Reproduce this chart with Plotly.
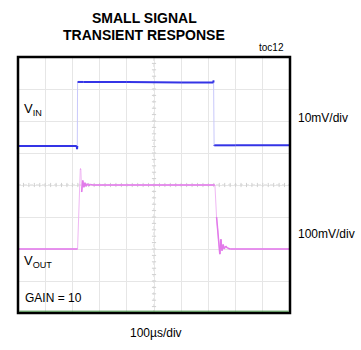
import plotly.graph_objects as go

# --- scope settings ---
time_per_div_us = 100
vin_mv_per_div = 10
vout_mv_per_div = 100
n_hdiv = 10
n_vdiv = 8

# --- VIN trace (mV, relative to its low level) ---
vin_t = [0, 216, 217, 218, 219, 240, 400, 600, 718, 719, 721, 722, 800, 1000]
vin_mv = [0, 0, -1, 0, 20, 20, 20, 19.8, 19.8, 20.5, 0, 0.2, 0.2, 0.2]
vin_offset_div = 1.22

# --- VOUT trace (mV, relative to its low level) ---
vout_t = [0, 217, 219, 229, 231, 234, 238, 242, 246, 250, 255, 260, 266, 275, 500,
          722, 724, 730, 742, 746, 750, 754, 758, 763, 770, 780, 1000]
vout_mv = [0, 0, 0, 250, 250, 178, 214, 193, 207, 196, 204, 198, 202, 200, 200,
           200, 200, 100, -16, 30, -5, 14, 0, 9, 3, 0, 0]
vout_offset_div = -2.0

vin_y = [v / vin_mv_per_div + vin_offset_div for v in vin_mv]
vout_y = [v / vout_mv_per_div + vout_offset_div for v in vout_mv]

# frame geometry in pixels
W, H = 361, 350
L, R, T, B = 17.5, 290.5, 57, 313


def px(x):
    return (x - L) / (R - L)


def py(y):
    return (B - y) / (B - T)


font = "Liberation Sans, Arial, sans-serif"
fig = go.Figure()

x_max = n_hdiv * time_per_div_us
y_half = n_vdiv / 2

# minor tick marks on the centre cross
minor_x = [i * time_per_div_us / 5 for i in range(n_hdiv * 5 + 1)]
minor_y = [-y_half + i * 0.2 for i in range(n_vdiv * 5 + 1)]
fig.add_trace(go.Scatter(x=minor_x, y=[0] * len(minor_x), mode="markers",
                         marker=dict(symbol="line-ns", size=3, line=dict(width=1, color="#d0d0d0")),
                         hoverinfo="skip", showlegend=False))
fig.add_trace(go.Scatter(x=[x_max / 2] * len(minor_y), y=minor_y, mode="markers",
                         marker=dict(symbol="line-ew", size=3, line=dict(width=1, color="#d0d0d0")),
                         hoverinfo="skip", showlegend=False))

# faint full traces (fast edges show up faintly on the scope)
fig.add_trace(go.Scatter(x=vin_t, y=vin_y, mode="lines",
                         line=dict(color="#c9c9fb", width=1), showlegend=False, hoverinfo="skip"))
fig.add_trace(go.Scatter(x=vout_t, y=vout_y, mode="lines",
                         line=dict(color="#f0b8f4", width=1), showlegend=False, hoverinfo="skip"))


def flat_parts(t, y, limit):
    xs, ys = [], []
    for i in range(len(t) - 1):
        slope = abs(y[i + 1] - y[i]) / max(t[i + 1] - t[i], 1e-9)
        if slope < limit:
            xs += [t[i], t[i + 1], None]
            ys += [y[i], y[i + 1], None]
    return xs, ys


vx, vy = flat_parts(vin_t, vin_y, 0.2)
fig.add_trace(go.Scatter(x=vx, y=vy, mode="lines",
                         line=dict(color="#3434e6", width=2), showlegend=False))
ox, oy = flat_parts(vout_t, vout_y, 0.12)
fig.add_trace(go.Scatter(x=ox, y=oy, mode="lines",
                         line=dict(color="#e27aea", width=1.5), showlegend=False))

# centre cross dotted lines
fig.add_shape(type="line", x0=0, x1=x_max, y0=0, y1=0,
              line=dict(color="#d4d4d4", width=1, dash="dot"), layer="below")
fig.add_shape(type="line", x0=x_max / 2, x1=x_max / 2, y0=-y_half, y1=y_half,
              line=dict(color="#d4d4d4", width=1, dash="dot"), layer="below")

# frame
fig.add_shape(type="rect", xref="paper", yref="paper", x0=0, x1=1, y0=0, y1=1,
              line=dict(color="black", width=2.5))
fig.add_shape(type="line", xref="paper", yref="paper", x0=0.005, x1=0.995,
              y0=py(311.2), y1=py(311.2), line=dict(color="#3d8a3d", width=1))

ann = [
    dict(text="<b>SMALL SIGNAL</b>", x=px(144), y=py(17.5), size=14, xanchor="center"),
    dict(text="<b>TRANSIENT RESPONSE</b>", x=px(144), y=py(35), size=14, xanchor="center"),
    dict(text="toc12", x=px(286), y=py(47), size=10, xanchor="right"),
    dict(text="V<sub>IN</sub>", x=px(22), y=py(109), size=13, xanchor="left"),
    dict(text="V<sub>OUT</sub>", x=px(22), y=py(261), size=13, xanchor="left"),
    dict(text="GAIN = 10", x=px(23), y=py(298), size=12, xanchor="left"),
    dict(text="10mV/div", x=px(297), y=py(118), size=12, xanchor="left"),
    dict(text="100mV/div", x=px(297), y=py(234), size=12, xanchor="left"),
    dict(text="100µs/div", x=px(156), y=py(333), size=12, xanchor="center"),
]
for a in ann:
    fig.add_annotation(text=a["text"], x=a["x"], y=a["y"], xref="paper", yref="paper",
                       xanchor=a["xanchor"], yanchor="middle", showarrow=False,
                       font=dict(family=font, size=a["size"], color="black"))

fig.update_layout(
    width=W, height=H,
    margin=dict(l=L, r=W - R, t=T, b=H - B),
    paper_bgcolor="white", plot_bgcolor="white",
    xaxis=dict(range=[0, x_max], dtick=time_per_div_us, showticklabels=False,
               showgrid=True, gridcolor="#e6e6e6", gridwidth=1, zeroline=False, ticks=""),
    yaxis=dict(range=[-y_half, y_half], dtick=1, showticklabels=False,
               showgrid=True, gridcolor="#e6e6e6", gridwidth=1, zeroline=False, ticks=""),
    showlegend=False,
)

fig.write_html("out.html")
